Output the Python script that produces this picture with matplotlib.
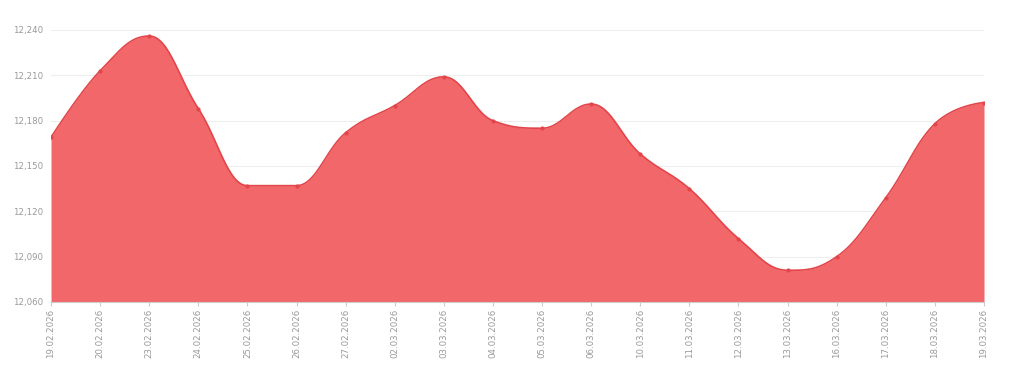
import matplotlib
matplotlib.use("Agg")
import matplotlib.pyplot as plt
import numpy as np
from matplotlib.ticker import FuncFormatter

dates = ["19.02.2026", "20.02.2026", "23.02.2026", "24.02.2026", "25.02.2026",
         "26.02.2026", "27.02.2026", "02.03.2026", "03.03.2026", "04.03.2026",
         "05.03.2026", "06.03.2026", "10.03.2026", "11.03.2026", "12.03.2026",
         "13.03.2026", "16.03.2026", "17.03.2026", "18.03.2026", "19.03.2026"]
values = [12169, 12213, 12236, 12188, 12137,
          12137, 12172, 12190, 12209, 12180,
          12175, 12191, 12158, 12135, 12102,
          12081, 12090, 12129, 12178, 12192]
y_ticks = [12060, 12090, 12120, 12150, 12180, 12210, 12240]

FILL = "#f2686a"
LINE = "#e2454a"
TEXT = "#999999"


def spline_path(x, y, n=30):
	# bezier smoothing of the kind used by web area-spline charts
	x = np.asarray(x, float)
	y = np.asarray(y, float)
	k = len(x)
	lc = [(x[i], y[i]) for i in range(k)]
	rc = [(x[i], y[i]) for i in range(k)]
	for i in range(1, k - 1):
		lx, ly = x[i - 1], y[i - 1]
		nx, ny = x[i + 1], y[i + 1]
		px, py = x[i], y[i]
		lcx = (1.5 * px + lx) / 2.5
		lcy = (1.5 * py + ly) / 2.5
		rcx = (1.5 * px + nx) / 2.5
		rcy = (1.5 * py + ny) / 2.5
		corr = (rcy - lcy) * (rcx - px) / (rcx - lcx) + py - rcy
		lcy += corr
		rcy += corr
		if lcy > ly and lcy > py:
			lcy = max(ly, py)
			rcy = 2 * py - lcy
		elif lcy < ly and lcy < py:
			lcy = min(ly, py)
			rcy = 2 * py - lcy
		if rcy > ny and rcy > py:
			rcy = max(ny, py)
			lcy = 2 * py - rcy
		elif rcy < ny and rcy < py:
			rcy = min(ny, py)
			lcy = 2 * py - rcy
		lc[i] = (lcx, lcy)
		rc[i] = (rcx, rcy)
	xs, ys = [], []
	t = np.linspace(0, 1, n, endpoint=False)
	for i in range(k - 1):
		p0 = np.array([x[i], y[i]])
		p1 = np.array(rc[i])
		p2 = np.array(lc[i + 1])
		p3 = np.array([x[i + 1], y[i + 1]])
		b = ((1 - t)**3)[:, None] * p0 + (3 * (1 - t)**2 * t)[:, None] * p1 \
			+ (3 * (1 - t) * t**2)[:, None] * p2 + (t**3)[:, None] * p3
		xs.append(b[:, 0])
		ys.append(b[:, 1])
	xs.append([x[-1]])
	ys.append([y[-1]])
	return np.concatenate(xs), np.concatenate(ys)


idx = np.arange(len(dates))
sx, sy = spline_path(idx, values)

fig = plt.figure(figsize=(10.24, 3.82), dpi=100)
ax = fig.add_axes([51/1024, 1 - 302/382, (984 - 51)/1024, (302 - 30)/382])

ax.fill_between(sx, sy, 12060, color=FILL, linewidth=0, zorder=2)
ax.plot(sx, sy, color=LINE, linewidth=1.2, zorder=3)
ax.plot(idx, values, "o", color=LINE, markersize=2, zorder=4)

ax.set_xlim(0, len(dates) - 1)
ax.set_ylim(12060, 12240)
ax.set_yticks(y_ticks)
ax.yaxis.set_major_formatter(FuncFormatter(lambda v, p: "{:,.0f}".format(v)))
ax.set_xticks(idx)
ax.set_xticklabels(dates, rotation=90)

ax.grid(axis="y", color="#eeeeee", linewidth=0.8, zorder=0)
for s in ["top", "right", "left"]:
	ax.spines[s].set_visible(False)
ax.spines["bottom"].set_color("#cccccc")
ax.tick_params(axis="y", length=0, pad=6, labelsize=6.2, labelcolor=TEXT)
ax.tick_params(axis="x", length=3, color="#cccccc", pad=2, labelsize=6.2, labelcolor=TEXT)

fig.savefig("out.png", dpi=100)
